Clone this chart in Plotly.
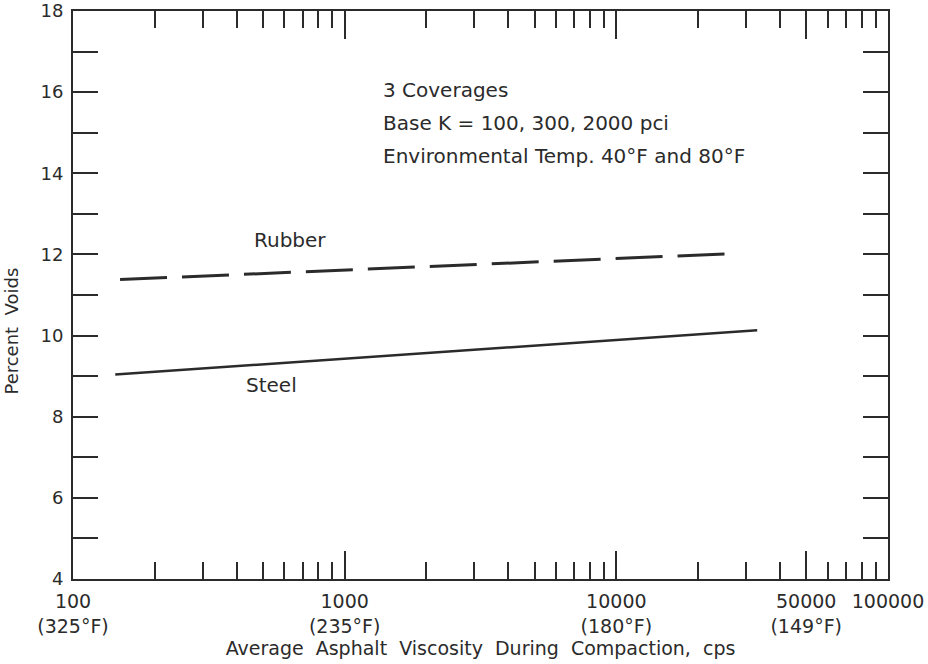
import plotly.graph_objects as go

# Viscosity during compaction (cps) and resulting percent voids
rubber_viscosity = [149, 26800]
rubber_voids = [11.38, 12.02]
steel_viscosity = [143, 33000]
steel_voids = [9.04, 10.13]

# Axis ticks
x_major = [100, 1000, 10000, 50000, 100000]
x_major_text = ["100<br>(325°F)", "1000<br>(235°F)", "10000<br>(180°F)",
                "50000<br>(149°F)", "100000"]
x_minor = ([v * 100 for v in range(2, 10)] + [v * 1000 for v in range(2, 10)]
           + [v * 10000 for v in range(2, 5)] + [v * 10000 for v in range(6, 10)])
y_ticks = list(range(4, 19))
y_tick_text = [str(v) if v % 2 == 0 else "" for v in y_ticks]

notes = ["3 Coverages", "Base K = 100, 300, 2000 pci",
         "Environmental Temp. 40°F and 80°F"]
note_y = [16.05, 15.24, 14.42]

INK = "#2b2b2b"
FONT = "DejaVu Sans"

fig = go.Figure()
fig.add_trace(go.Scatter(
    x=rubber_viscosity, y=rubber_voids, mode="lines",
    line=dict(color=INK, width=3, dash="47px,15px"), name="Rubber",
    showlegend=False))
fig.add_trace(go.Scatter(
    x=steel_viscosity, y=steel_voids, mode="lines",
    line=dict(color=INK, width=2.5), name="Steel", showlegend=False))

annotations = [
    dict(x=2.799, y=12.35, text="Rubber", showarrow=False,
         font=dict(size=20, color=INK, family=FONT)),
    dict(x=2.732, y=8.78, text="Steel", showarrow=False,
         font=dict(size=20, color=INK, family=FONT)),
    # rotated y-axis title
    dict(x=-0.076, xref="paper", y=10.1, text="Percent  Voids",
         textangle=-90, showarrow=False, xanchor="center", yanchor="middle",
         font=dict(size=18, color=INK, family=FONT)),
]
for txt, yy in zip(notes, note_y):
    annotations.append(dict(x=3.134, y=yy, text=txt, showarrow=False,
                            xanchor="left", yanchor="middle",
                            font=dict(size=20, color=INK, family=FONT)))

fig.update_layout(
    width=928, height=664, autosize=False,
    margin=dict(l=73, r=40, t=11, b=85),
    plot_bgcolor="white", paper_bgcolor="white",
    font=dict(family=FONT, color=INK, size=17),
    annotations=annotations,
)

fig.update_xaxes(
    type="log", range=[2, 5], automargin=False,
    tickmode="array", tickvals=x_major, ticktext=x_major_text,
    ticks="inside", ticklen=28, tickwidth=2, tickcolor=INK,
    minor=dict(tickmode="array", tickvals=x_minor, ticks="inside",
               ticklen=17, tickwidth=2, tickcolor=INK),
    showline=True, linewidth=2, linecolor=INK, mirror="allticks",
    showgrid=False, zeroline=False, ticklabelstandoff=4,
    tickfont=dict(size=19, family=FONT, color=INK),
    title=dict(text="Average  Asphalt  Viscosity  During  Compaction,  cps",
               font=dict(size=19, family=FONT, color=INK), standoff=6),
)
fig.update_yaxes(
    range=[4, 18], automargin=False,
    tickmode="array", tickvals=y_ticks, ticktext=y_tick_text,
    ticks="inside", ticklen=25, tickwidth=2, tickcolor=INK,
    showline=True, linewidth=2, linecolor=INK, mirror="allticks",
    showgrid=False, zeroline=False, ticklabelstandoff=4,
    tickfont=dict(size=18, family=FONT, color=INK),
)

fig.write_html("out.html")
